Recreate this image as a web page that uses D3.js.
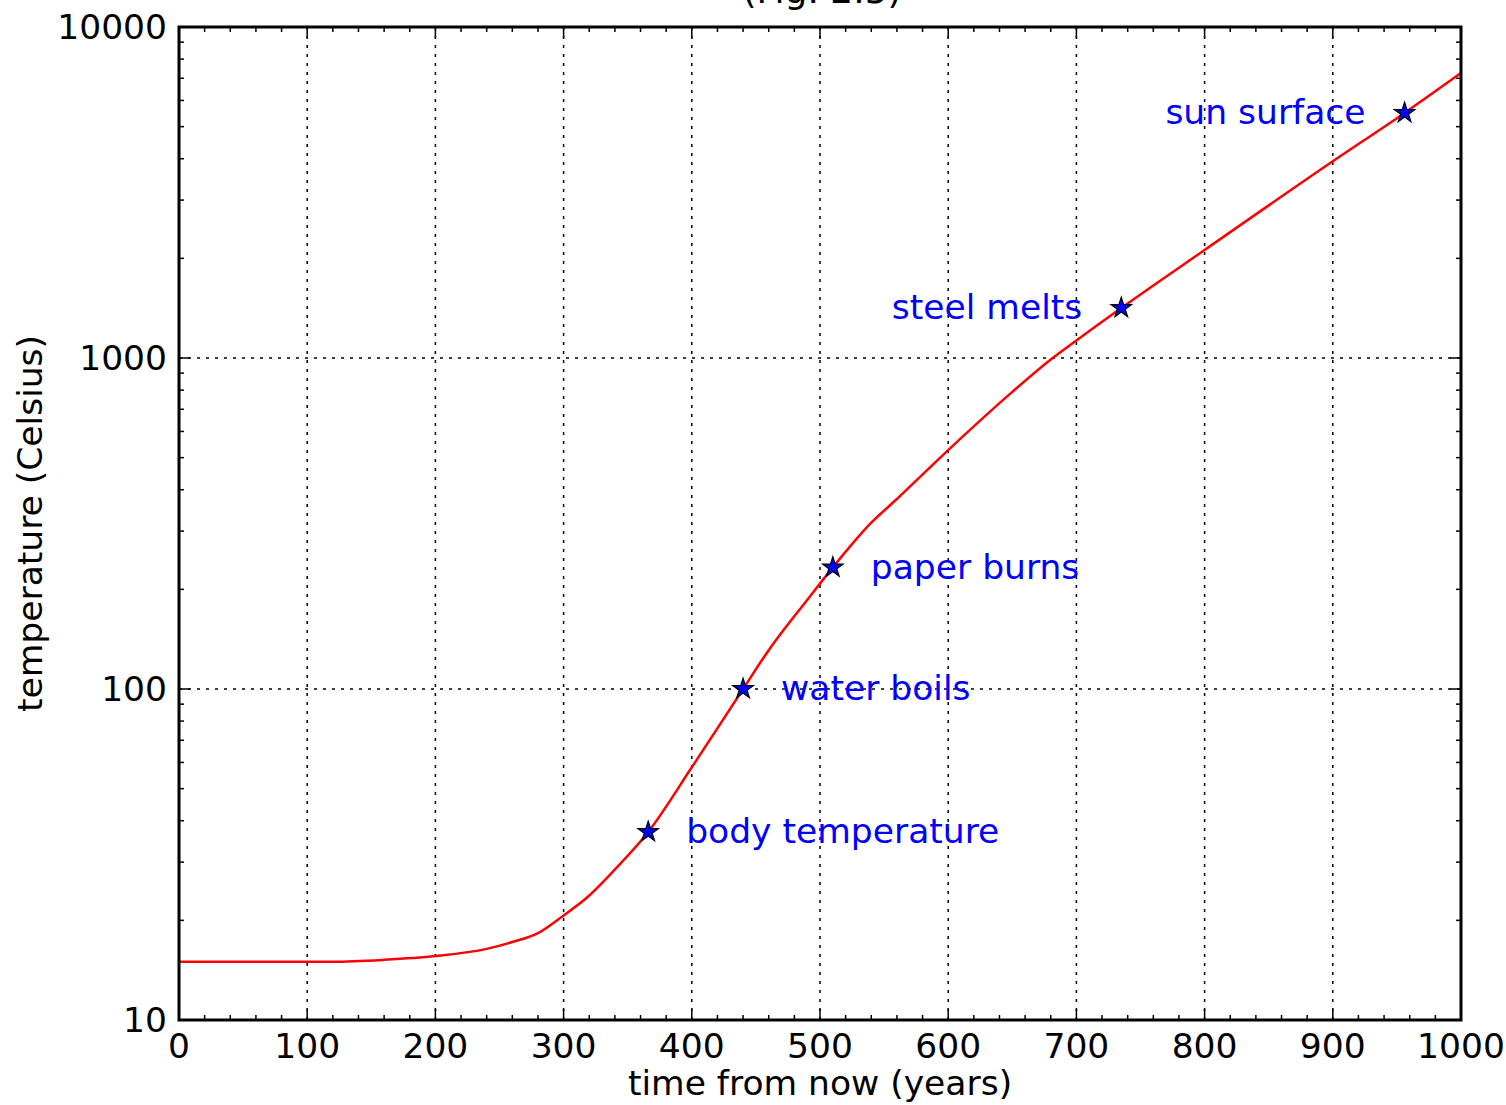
<!DOCTYPE html>
<html><head><meta charset="utf-8">
<script src="https://cdn.jsdelivr.net/npm/d3@7"></script>
<style>body{margin:0;background:#fff}text{font-family:"DejaVu Sans",sans-serif}</style>
</head><body>
<svg id="c" width="1506" height="1105"></svg>
<script>
const years = [0, 120, 160, 200, 240, 260, 280, 300, 318, 340, 366, 400, 440, 460, 492, 510, 540, 560, 600, 650, 680, 700, 735, 800, 900, 956, 1000];
const temps = [15, 15, 15.2, 15.6, 16.4, 17.2, 18.3, 20.7, 23.4, 28.5, 37, 58, 100, 131, 190, 233, 318, 375, 527, 790, 990, 1130, 1416, 2120, 3930, 5500, 7260];
const markYears = [366, 440, 510, 735, 956];
const markTemps = [37, 100, 233, 1416, 5500];
const markLabels = ["body temperature", "water boils", "paper burns", "steel melts", "sun surface"];
const markSide = ["right", "right", "right", "left", "left"];
const xTicks = [0,100,200,300,400,500,600,700,800,900,1000];
const yTicks = [10,100,1000,10000];
const titleText = "(Fig. 2.5)";
const xLabel = "time from now (years)";
const yLabel = "temperature (Celsius)";

const L=179,R=1461,T=27,B=1020;
const FS=34.5;
const svg=d3.select("#c");
const x=d3.scaleLinear().domain([0,1000]).range([L,R]);
const y=d3.scaleLog().domain([10,10000]).range([B,T]);

// grid
const g=svg.append("g");
g.selectAll(".gx").data(xTicks.slice(1,-1)).join("line")
 .attr("x1",d=>x(d)).attr("x2",d=>x(d)).attr("y1",T).attr("y2",B)
 .attr("stroke","#000").attr("stroke-width",1.5).attr("stroke-dasharray","3,6");
g.selectAll(".gy").data(yTicks.slice(1,-1)).join("line")
 .attr("y1",d=>y(d)).attr("y2",d=>y(d)).attr("x1",L).attr("x2",R)
 .attr("stroke","#000").attr("stroke-width",1.5).attr("stroke-dasharray","3,6");

// ticks
const xMinor=d3.range(0,1001,20).filter(v=>v%100!==0);
const yMinor=[];[10,100,1000].forEach(b=>{for(let k=2;k<10;k++)yMinor.push(b*k);});
const tk=svg.append("g").attr("stroke","#000").attr("stroke-width",1.5);
function xt(vals,len){vals.forEach(v=>{
 tk.append("line").attr("x1",x(v)).attr("x2",x(v)).attr("y1",B).attr("y2",B-len);
 tk.append("line").attr("x1",x(v)).attr("x2",x(v)).attr("y1",T).attr("y2",T+len);});}
function yt(vals,len){vals.forEach(v=>{
 tk.append("line").attr("y1",y(v)).attr("y2",y(v)).attr("x1",L).attr("x2",L+len);
 tk.append("line").attr("y1",y(v)).attr("y2",y(v)).attr("x1",R).attr("x2",R-len);});}
xt(xTicks,11);xt(xMinor,5);yt(yTicks,11);yt(yMinor,5);

// line
const pts=years.map((v,i)=>[v,temps[i]]);
svg.append("path").datum(pts)
 .attr("d",d3.line().x(d=>x(d[0])).y(d=>y(d[1])).curve(d3.curveMonotoneX))
 .attr("fill","none").attr("stroke","#ff0000").attr("stroke-width",2.5);

// markers
const star=d3.symbol().type(d3.symbolStar).size(130);
svg.selectAll(".st").data(markYears).join("path")
 .attr("transform",(d,i)=>`translate(${x(d)},${y(markTemps[i])})`)
 .attr("d",star).attr("fill","#0000ff").attr("stroke","#000").attr("stroke-width",1.2);
svg.selectAll(".lb").data(markLabels).join("text")
 .attr("x",(d,i)=>x(markYears[i])+(markSide[i]==="right"?38:-39))
 .attr("y",(d,i)=>y(markTemps[i]))
 .attr("dy","0.33em")
 .attr("text-anchor",(d,i)=>markSide[i]==="right"?"start":"end")
 .attr("fill","#0000ff").attr("font-size",FS).text(d=>d);

// frame
svg.append("rect").attr("x",L).attr("y",T).attr("width",R-L).attr("height",B-T)
 .attr("fill","none").attr("stroke","#000").attr("stroke-width",3);

// tick labels
svg.selectAll(".xl").data(xTicks).join("text")
 .attr("x",d=>x(d)).attr("y",B+38).attr("text-anchor","middle").attr("font-size",FS).text(d=>d);
svg.selectAll(".yl").data(yTicks).join("text")
 .attr("x",L-12).attr("y",d=>y(d)+12).attr("text-anchor","end").attr("font-size",FS).text(d=>d);

// axis labels
svg.append("text").attr("x",(L+R)/2).attr("y",1095).attr("text-anchor","middle").attr("font-size",FS).text(xLabel);
svg.append("text").attr("transform",`translate(42,${(T+B)/2}) rotate(-90)`).attr("text-anchor","middle").attr("font-size",FS).text(yLabel);
svg.append("text").attr("x",822).attr("y",3).attr("text-anchor","middle").attr("font-size",36).text(titleText);
</script>
</body></html>
